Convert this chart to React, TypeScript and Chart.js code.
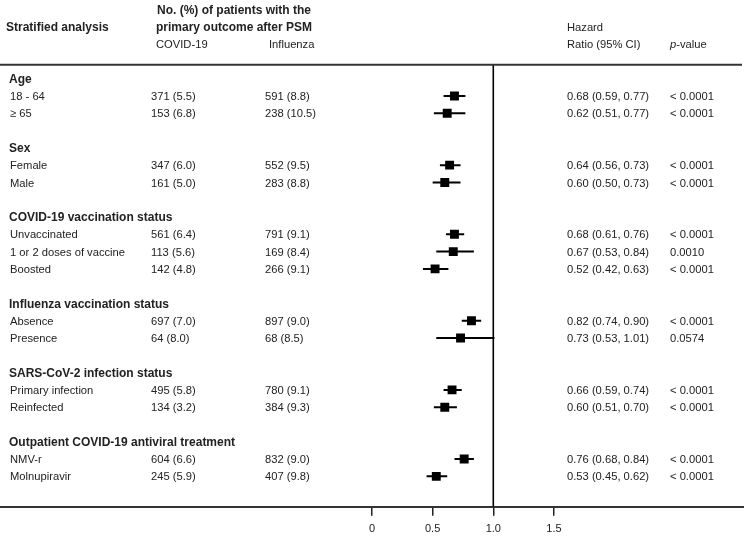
import React, { useEffect, useRef } from "react";
import { Chart, registerables } from "chart.js";

Chart.register(...registerables);

// ---- data ----
const groupLabels = [
  "Age",
  "Sex",
  "COVID-19 vaccination status",
  "Influenza vaccination status",
  "SARS-CoV-2 infection status",
  "Outpatient COVID-19 antiviral treatment",
];
const groupSlots = [0, 4, 8, 13, 17, 21];

const subgroupLabels = [
  "18 - 64",
  "≥ 65",
  "Female",
  "Male",
  "Unvaccinated",
  "1 or 2 doses of vaccine",
  "Boosted",
  "Absence",
  "Presence",
  "Primary infection",
  "Reinfected",
  "NMV-r",
  "Molnupiravir",
];
const subgroupSlots = [1, 2, 5, 6, 9, 10, 11, 14, 15, 18, 19, 22, 23];

const covidN = [371, 153, 347, 161, 561, 113, 142, 697, 64, 495, 134, 604, 245];
const covidPct = [5.5, 6.8, 6.0, 5.0, 6.4, 5.6, 4.8, 7.0, 8.0, 5.8, 3.2, 6.6, 5.9];
const fluN = [591, 238, 552, 283, 791, 169, 266, 897, 68, 780, 384, 832, 407];
const fluPct = [8.8, 10.5, 9.5, 8.8, 9.1, 8.4, 9.1, 9.0, 8.5, 9.1, 9.3, 9.0, 9.8];

const hazardRatio = [0.68, 0.62, 0.64, 0.6, 0.68, 0.67, 0.52, 0.82, 0.73, 0.66, 0.6, 0.76, 0.53];
const ciLow = [0.59, 0.51, 0.56, 0.5, 0.61, 0.53, 0.42, 0.74, 0.53, 0.59, 0.51, 0.68, 0.45];
const ciHigh = [0.77, 0.77, 0.73, 0.73, 0.76, 0.84, 0.63, 0.9, 1.01, 0.74, 0.7, 0.84, 0.62];
const pValues = [
  "< 0.0001",
  "< 0.0001",
  "< 0.0001",
  "< 0.0001",
  "< 0.0001",
  "0.0010",
  "< 0.0001",
  "< 0.0001",
  "0.0574",
  "< 0.0001",
  "< 0.0001",
  "< 0.0001",
  "< 0.0001",
];

const xTickValues = [0, 0.5, 1.0, 1.5];
const xTickLabels = ["0", "0.5", "1.0", "1.5"];
const referenceHR = 1;

// ---- layout constants ----
const W = 744;
const H = 539;
const X_MIN = -3.067;
const X_MAX = 3.067;
const Y_MIN = -4.55;
const Y_MAX = 24.76;
const RULE_SLOT = -0.8;
const FONT = "'Liberation Sans', Arial, Helvetica, sans-serif";
const TEXT_COLOR = "#222";
const TEXT_DY = 1;

const COL_LABEL = 10;
const COL_COVID = 151;
const COL_FLU = 265;
const COL_HR = 567;
const COL_P = 670;

const fmtCI = (i: number) =>
  `${hazardRatio[i].toFixed(2)} (${ciLow[i].toFixed(2)}, ${ciHigh[i].toFixed(2)})`;

const textPlugin = {
  id: "forestText",
  afterDraw(chart: any) {
    const ctx: CanvasRenderingContext2D = chart.ctx;
    const y = chart.scales.y;
    const py = (s: number) => y.getPixelForValue(s) + TEXT_DY;
    const regular = `11.2px ${FONT}`;
    const bold = `bold 12px ${FONT}`;
    ctx.save();
    ctx.textBaseline = "middle";
    ctx.textAlign = "left";
    ctx.fillStyle = TEXT_COLOR;

    // header
    ctx.font = bold;
    ctx.fillText("Stratified analysis", 6, py(-3));
    ctx.fillText("No. (%) of patients with the", 157, py(-4));
    ctx.fillText("primary outcome after PSM", 156, py(-3));
    ctx.font = regular;
    ctx.fillText("COVID-19", 156, py(-2));
    ctx.fillText("Influenza", 269, py(-2));
    ctx.fillText("Hazard", COL_HR, py(-3));
    ctx.fillText("Ratio (95% CI)", COL_HR, py(-2));
    ctx.font = `italic 11.2px ${FONT}`;
    ctx.fillText("p", COL_P, py(-2));
    const pw = ctx.measureText("p").width;
    ctx.font = regular;
    ctx.fillText("-value", COL_P + pw, py(-2));

    // group headings
    ctx.font = bold;
    groupLabels.forEach((g, i) => ctx.fillText(g, COL_LABEL - 1, py(groupSlots[i])));

    // rows
    ctx.font = regular;
    subgroupLabels.forEach((lab, i) => {
      const yy = py(subgroupSlots[i]);
      ctx.fillText(lab, COL_LABEL, yy);
      ctx.fillText(`${covidN[i]} (${covidPct[i].toFixed(1)})`, COL_COVID, yy);
      ctx.fillText(`${fluN[i]} (${fluPct[i].toFixed(1)})`, COL_FLU, yy);
      ctx.fillText(fmtCI(i), COL_HR, yy);
      ctx.fillText(pValues[i], COL_P, yy);
    });

    // top rule
    const ry = y.getPixelForValue(RULE_SLOT);
    ctx.strokeStyle = "#333";
    ctx.lineWidth = 2;
    ctx.beginPath();
    ctx.moveTo(0, ry);
    ctx.lineTo(W - 2, ry);
    ctx.stroke();
    ctx.restore();
  },
};

export default function App() {
  const ref = useRef<HTMLCanvasElement | null>(null);

  useEffect(() => {
    document.body.style.margin = "0";
    const canvas = ref.current;
    if (!canvas) return;

    const ciDatasets = hazardRatio.map((_, i) => ({
      data: [
        { x: ciLow[i], y: subgroupSlots[i] },
        { x: ciHigh[i], y: subgroupSlots[i] },
      ],
      showLine: true,
      borderColor: "#000",
      borderWidth: 2,
      pointRadius: 0,
      order: 2,
    }));

    const chart = new Chart(canvas, {
      type: "scatter",
      data: {
        datasets: [
          {
            data: [
              { x: referenceHR, y: RULE_SLOT },
              { x: referenceHR, y: Y_MAX },
            ],
            showLine: true,
            borderColor: "#000",
            borderWidth: 1.6,
            pointRadius: 0,
            order: 3,
          },
          ...ciDatasets,
          {
            data: hazardRatio.map((v, i) => ({ x: v, y: subgroupSlots[i] })),
            pointStyle: "rect",
            pointRadius: 6.3,
            backgroundColor: "#000",
            borderColor: "#000",
            borderWidth: 0,
            order: 1,
          },
        ] as any,
      },
      options: {
        animation: false,
        responsive: false,
        events: [],
        layout: { autoPadding: false, padding: { left: 0, right: 0, top: 0, bottom: -4 } },
        plugins: {
          legend: { display: false },
          tooltip: { enabled: false },
        },
        scales: {
          x: {
            type: "linear",
            min: X_MIN,
            max: X_MAX,
            afterBuildTicks: (axis: any) => {
              axis.ticks = xTickValues.map((v) => ({ value: v }));
            },
            grid: {
              display: true,
              drawOnChartArea: false,
              drawTicks: true,
              tickLength: 9,
              color: "#222",
              lineWidth: 1.5,
            },
            border: { display: true, color: "#333", width: 2 },
            ticks: {
              padding: 7,
              color: TEXT_COLOR,
              font: { family: FONT, size: 11 },
              autoSkip: false,
              maxRotation: 0,
              callback: (value: any) => {
                const idx = xTickValues.indexOf(Number(value));
                return idx >= 0 ? xTickLabels[idx] : "";
              },
            },
          },
          y: {
            type: "linear",
            display: false,
            min: Y_MIN,
            max: Y_MAX,
            reverse: true,
          },
        },
      } as any,
      plugins: [textPlugin],
    });

    return () => chart.destroy();
  }, []);

  return (
    <div style={{ width: W, height: H, background: "#fff" }}>
      <canvas ref={ref} width={W} height={H} style={{ display: "block" }} />
    </div>
  );
}
